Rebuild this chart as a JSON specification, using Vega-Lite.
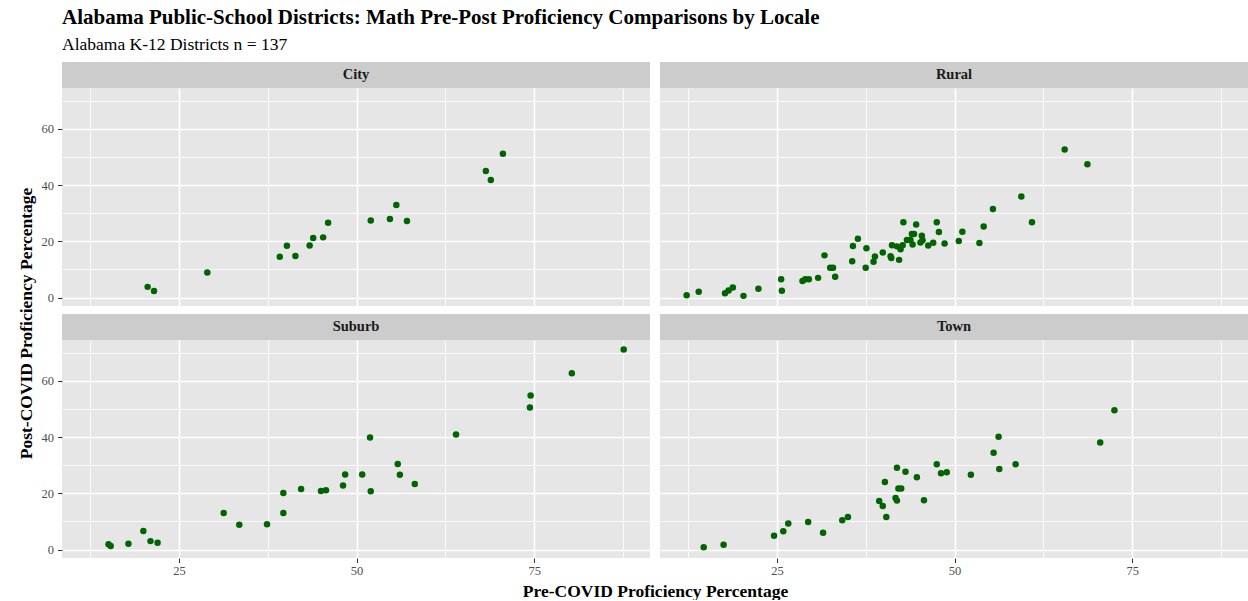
{
  "$schema": "https://vega.github.io/schema/vega-lite/v6.json",
  "padding": {"left": 17, "top": 6, "right": 0, "bottom": 0},
  "background": "#FFFFFF",
  "title": {
    "text": "Alabama Public-School Districts: Math Pre-Post Proficiency Comparisons by Locale",
    "subtitle": "Alabama K-12 Districts n = 137",
    "anchor": "start",
    "frame": "group",
    "font": "Liberation Serif",
    "fontSize": 21,
    "fontWeight": "bold",
    "color": "#000000",
    "subtitleFont": "Liberation Serif",
    "subtitleFontSize": 17.5,
    "subtitleColor": "#000000",
    "subtitlePadding": 8,
    "offset": 9
  },
  "datasets": {
    "districts": [
      {"locale": "City", "pre": 20.6, "post": 3.8},
      {"locale": "City", "pre": 21.5, "post": 2.3},
      {"locale": "City", "pre": 29.0, "post": 8.9},
      {"locale": "City", "pre": 39.2, "post": 14.5},
      {"locale": "City", "pre": 40.2, "post": 18.4},
      {"locale": "City", "pre": 41.4, "post": 14.8},
      {"locale": "City", "pre": 43.4, "post": 18.5},
      {"locale": "City", "pre": 43.9, "post": 21.2},
      {"locale": "City", "pre": 45.3, "post": 21.4},
      {"locale": "City", "pre": 46.0, "post": 26.6},
      {"locale": "City", "pre": 52.0, "post": 27.4},
      {"locale": "City", "pre": 54.7, "post": 27.9},
      {"locale": "City", "pre": 55.6, "post": 32.9},
      {"locale": "City", "pre": 57.1, "post": 27.2},
      {"locale": "City", "pre": 68.2, "post": 45.0},
      {"locale": "City", "pre": 68.9, "post": 41.8},
      {"locale": "City", "pre": 70.6, "post": 51.1},
      {"locale": "Rural", "pre": 12.3, "post": 0.8},
      {"locale": "Rural", "pre": 14.0, "post": 2.1},
      {"locale": "Rural", "pre": 17.7, "post": 1.5},
      {"locale": "Rural", "pre": 18.2, "post": 2.5},
      {"locale": "Rural", "pre": 18.8, "post": 3.6},
      {"locale": "Rural", "pre": 20.3, "post": 0.6},
      {"locale": "Rural", "pre": 22.4, "post": 3.1},
      {"locale": "Rural", "pre": 25.6, "post": 6.5},
      {"locale": "Rural", "pre": 25.7, "post": 2.4},
      {"locale": "Rural", "pre": 28.6, "post": 5.9},
      {"locale": "Rural", "pre": 29.0, "post": 6.5},
      {"locale": "Rural", "pre": 29.5, "post": 6.5},
      {"locale": "Rural", "pre": 30.8, "post": 7.0},
      {"locale": "Rural", "pre": 31.7, "post": 15.0},
      {"locale": "Rural", "pre": 32.5, "post": 10.6},
      {"locale": "Rural", "pre": 32.9, "post": 10.6},
      {"locale": "Rural", "pre": 33.2, "post": 7.4},
      {"locale": "Rural", "pre": 35.6, "post": 12.9},
      {"locale": "Rural", "pre": 35.7, "post": 18.3},
      {"locale": "Rural", "pre": 36.4, "post": 20.9},
      {"locale": "Rural", "pre": 37.5, "post": 10.6},
      {"locale": "Rural", "pre": 37.6, "post": 17.5},
      {"locale": "Rural", "pre": 38.6, "post": 12.7},
      {"locale": "Rural", "pre": 38.8, "post": 14.6},
      {"locale": "Rural", "pre": 39.9, "post": 16.0},
      {"locale": "Rural", "pre": 41.0, "post": 14.7},
      {"locale": "Rural", "pre": 41.1, "post": 14.1},
      {"locale": "Rural", "pre": 41.2, "post": 18.6},
      {"locale": "Rural", "pre": 42.2, "post": 13.4},
      {"locale": "Rural", "pre": 41.9, "post": 18.2},
      {"locale": "Rural", "pre": 42.4, "post": 17.2},
      {"locale": "Rural", "pre": 42.7, "post": 18.6},
      {"locale": "Rural", "pre": 42.8, "post": 26.8},
      {"locale": "Rural", "pre": 43.3, "post": 20.5},
      {"locale": "Rural", "pre": 43.8, "post": 20.5},
      {"locale": "Rural", "pre": 44.0, "post": 22.6},
      {"locale": "Rural", "pre": 44.1, "post": 18.9},
      {"locale": "Rural", "pre": 44.3, "post": 22.6},
      {"locale": "Rural", "pre": 44.6, "post": 26.0},
      {"locale": "Rural", "pre": 45.2, "post": 19.6},
      {"locale": "Rural", "pre": 45.4, "post": 22.0},
      {"locale": "Rural", "pre": 45.5, "post": 20.4},
      {"locale": "Rural", "pre": 46.3, "post": 18.5},
      {"locale": "Rural", "pre": 47.0, "post": 19.5},
      {"locale": "Rural", "pre": 47.5, "post": 26.8},
      {"locale": "Rural", "pre": 47.8, "post": 23.3},
      {"locale": "Rural", "pre": 48.6, "post": 19.2},
      {"locale": "Rural", "pre": 50.6, "post": 20.1},
      {"locale": "Rural", "pre": 51.1, "post": 23.4},
      {"locale": "Rural", "pre": 53.5, "post": 19.4},
      {"locale": "Rural", "pre": 54.1, "post": 25.3},
      {"locale": "Rural", "pre": 55.4, "post": 31.5},
      {"locale": "Rural", "pre": 59.4, "post": 35.9},
      {"locale": "Rural", "pre": 60.9, "post": 26.8},
      {"locale": "Rural", "pre": 65.5, "post": 52.6},
      {"locale": "Rural", "pre": 68.7, "post": 47.4},
      {"locale": "Suburb", "pre": 15.1, "post": 1.9},
      {"locale": "Suburb", "pre": 15.4, "post": 1.3},
      {"locale": "Suburb", "pre": 17.9, "post": 2.1},
      {"locale": "Suburb", "pre": 20.0, "post": 6.6},
      {"locale": "Suburb", "pre": 21.0, "post": 3.0},
      {"locale": "Suburb", "pre": 22.0, "post": 2.4},
      {"locale": "Suburb", "pre": 31.3, "post": 13.0},
      {"locale": "Suburb", "pre": 33.5, "post": 8.8},
      {"locale": "Suburb", "pre": 37.4, "post": 9.0},
      {"locale": "Suburb", "pre": 39.7, "post": 20.1},
      {"locale": "Suburb", "pre": 39.7, "post": 13.0},
      {"locale": "Suburb", "pre": 42.2, "post": 21.5},
      {"locale": "Suburb", "pre": 45.0, "post": 20.8},
      {"locale": "Suburb", "pre": 45.7, "post": 21.1},
      {"locale": "Suburb", "pre": 48.1, "post": 22.8},
      {"locale": "Suburb", "pre": 48.4, "post": 26.7},
      {"locale": "Suburb", "pre": 50.8, "post": 26.7},
      {"locale": "Suburb", "pre": 51.9, "post": 39.8},
      {"locale": "Suburb", "pre": 52.0, "post": 20.7},
      {"locale": "Suburb", "pre": 55.8, "post": 30.4},
      {"locale": "Suburb", "pre": 56.1, "post": 26.6},
      {"locale": "Suburb", "pre": 58.2, "post": 23.3},
      {"locale": "Suburb", "pre": 64.0, "post": 40.9},
      {"locale": "Suburb", "pre": 74.4, "post": 50.5},
      {"locale": "Suburb", "pre": 74.5, "post": 54.8},
      {"locale": "Suburb", "pre": 80.3, "post": 62.7},
      {"locale": "Suburb", "pre": 87.6, "post": 71.1},
      {"locale": "Town", "pre": 14.7, "post": 0.8},
      {"locale": "Town", "pre": 17.5, "post": 1.7},
      {"locale": "Town", "pre": 24.6, "post": 4.9},
      {"locale": "Town", "pre": 25.9, "post": 6.5},
      {"locale": "Town", "pre": 26.6, "post": 9.3},
      {"locale": "Town", "pre": 29.4, "post": 9.8},
      {"locale": "Town", "pre": 31.5, "post": 6.0},
      {"locale": "Town", "pre": 34.2, "post": 10.4},
      {"locale": "Town", "pre": 35.0, "post": 11.6},
      {"locale": "Town", "pre": 39.4, "post": 17.3},
      {"locale": "Town", "pre": 39.9, "post": 15.5},
      {"locale": "Town", "pre": 40.2, "post": 24.0},
      {"locale": "Town", "pre": 40.4, "post": 11.6},
      {"locale": "Town", "pre": 41.7, "post": 18.3},
      {"locale": "Town", "pre": 41.9, "post": 17.4},
      {"locale": "Town", "pre": 41.9, "post": 29.1},
      {"locale": "Town", "pre": 42.1, "post": 21.7},
      {"locale": "Town", "pre": 42.5, "post": 21.7},
      {"locale": "Town", "pre": 43.1, "post": 27.7},
      {"locale": "Town", "pre": 44.7, "post": 25.7},
      {"locale": "Town", "pre": 45.7, "post": 17.5},
      {"locale": "Town", "pre": 47.5, "post": 30.3},
      {"locale": "Town", "pre": 48.1, "post": 27.1},
      {"locale": "Town", "pre": 48.9, "post": 27.5},
      {"locale": "Town", "pre": 52.3, "post": 26.6},
      {"locale": "Town", "pre": 55.5, "post": 34.4},
      {"locale": "Town", "pre": 56.2, "post": 40.1},
      {"locale": "Town", "pre": 56.3, "post": 28.6},
      {"locale": "Town", "pre": 58.6, "post": 30.3},
      {"locale": "Town", "pre": 70.5, "post": 38.1},
      {"locale": "Town", "pre": 72.5, "post": 49.5}
    ]
  },
  "columns": 2,
  "spacing": {"row": 0, "column": 10},
  "bounds": "flush",
  "concat": [
    {
      "data": {"name": "districts"},
      "width": 588, "height": 26,
      "view": {"fill": "#CCCCCC", "stroke": null},
      "transform": [{"filter": "datum.locale === 'City'"}, {"aggregate": [{"op": "count", "as": "n"}], "groupby": ["locale"]}],
      "mark": {"type": "text", "font": "Liberation Serif", "fontWeight": "bold", "fontSize": 14.5, "color": "#1A1A1A", "baseline": "middle", "align": "center"},
      "encoding": {"text": {"field": "locale"}}
    },
    {
      "data": {"name": "districts"},
      "width": 588, "height": 26,
      "view": {"fill": "#CCCCCC", "stroke": null},
      "transform": [{"filter": "datum.locale === 'Rural'"}, {"aggregate": [{"op": "count", "as": "n"}], "groupby": ["locale"]}],
      "mark": {"type": "text", "font": "Liberation Serif", "fontWeight": "bold", "fontSize": 14.5, "color": "#1A1A1A", "baseline": "middle", "align": "center"},
      "encoding": {"text": {"field": "locale"}}
    },
    {
      "data": {"name": "districts"},
      "width": 588, "height": 218,
      "view": {"fill": "#E6E6E6", "stroke": null},
      "transform": [{"filter": "datum.locale === 'City'"}],
      "mark": {"type": "circle", "size": 42, "color": "#006400", "opacity": 1},
      "encoding": {
        "x": {"field": "pre", "type": "quantitative", "scale": {"domain": [8.55, 91.3], "nice": false, "zero": false},
          "axis": {"values": [12.5, 25, 37.5, 50, 62.5, 75, 87.5], "labels": false, "ticks": false, "domain": false, "title": null,
            "grid": true, "gridColor": "#FFFFFF", "gridWidth": {"condition": {"test": "datum.value % 25 === 0", "value": 1.6}, "value": 0.8}}},
        "y": {"field": "post", "type": "quantitative", "scale": {"domain": [-3, 74.5], "nice": false, "zero": false},
          "axis": {"values": [0, 10, 20, 30, 40, 50, 60, 70], "labelExpr": "datum.value % 20 === 0 ? datum.label : ''", "labelOverlap": false,
            "domain": false, "grid": true, "gridColor": "#FFFFFF", "gridWidth": {"condition": {"test": "datum.value % 20 === 0", "value": 1.6}, "value": 0.8},
            "ticks": true, "tickColor": "#333333", "tickSize": 4.5, "tickOpacity": {"condition": {"test": "datum.value % 20 === 0", "value": 1}, "value": 0},
            "labelFont": "Liberation Serif", "labelFontSize": 12.5, "labelColor": "#4D4D4D", "labelPadding": 4,
            "title": "Post-COVID Proficiency Percentage", "titleFont": "Liberation Serif", "titleFontWeight": "bold", "titleFontSize": 17.5, "titleColor": "#000000",
            "titleAngle": -90, "titleX": -36, "titleY": 235, "titleAlign": "center", "titleBaseline": "middle"}}
      }
    },
    {
      "data": {"name": "districts"},
      "width": 588, "height": 218,
      "view": {"fill": "#E6E6E6", "stroke": null},
      "transform": [{"filter": "datum.locale === 'Rural'"}],
      "mark": {"type": "circle", "size": 42, "color": "#006400", "opacity": 1},
      "encoding": {
        "x": {"field": "pre", "type": "quantitative", "scale": {"domain": [8.55, 91.3], "nice": false, "zero": false},
          "axis": {"values": [12.5, 25, 37.5, 50, 62.5, 75, 87.5], "labels": false, "ticks": false, "domain": false, "title": null,
            "grid": true, "gridColor": "#FFFFFF", "gridWidth": {"condition": {"test": "datum.value % 25 === 0", "value": 1.6}, "value": 0.8}}},
        "y": {"field": "post", "type": "quantitative", "scale": {"domain": [-3, 74.5], "nice": false, "zero": false},
          "axis": {"values": [0, 10, 20, 30, 40, 50, 60, 70], "labels": false, "ticks": false, "domain": false, "title": null,
            "grid": true, "gridColor": "#FFFFFF", "gridWidth": {"condition": {"test": "datum.value % 20 === 0", "value": 1.6}, "value": 0.8}}}
      }
    },
    {
      "data": {"name": "districts"},
      "width": 588, "height": 8,
      "transform": [{"filter": "false"}],
      "mark": {"type": "point", "opacity": 0},
      "encoding": {}
    },
    {
      "data": {"name": "districts"},
      "width": 588, "height": 8,
      "transform": [{"filter": "false"}],
      "mark": {"type": "point", "opacity": 0},
      "encoding": {}
    },
    {
      "data": {"name": "districts"},
      "width": 588, "height": 26,
      "view": {"fill": "#CCCCCC", "stroke": null},
      "transform": [{"filter": "datum.locale === 'Suburb'"}, {"aggregate": [{"op": "count", "as": "n"}], "groupby": ["locale"]}],
      "mark": {"type": "text", "font": "Liberation Serif", "fontWeight": "bold", "fontSize": 14.5, "color": "#1A1A1A", "baseline": "middle", "align": "center"},
      "encoding": {"text": {"field": "locale"}}
    },
    {
      "data": {"name": "districts"},
      "width": 588, "height": 26,
      "view": {"fill": "#CCCCCC", "stroke": null},
      "transform": [{"filter": "datum.locale === 'Town'"}, {"aggregate": [{"op": "count", "as": "n"}], "groupby": ["locale"]}],
      "mark": {"type": "text", "font": "Liberation Serif", "fontWeight": "bold", "fontSize": 14.5, "color": "#1A1A1A", "baseline": "middle", "align": "center"},
      "encoding": {"text": {"field": "locale"}}
    },
    {
      "data": {"name": "districts"},
      "width": 588, "height": 218,
      "view": {"fill": "#E6E6E6", "stroke": null},
      "transform": [{"filter": "datum.locale === 'Suburb'"}],
      "mark": {"type": "circle", "size": 42, "color": "#006400", "opacity": 1},
      "encoding": {
        "x": {"field": "pre", "type": "quantitative", "scale": {"domain": [8.55, 91.3], "nice": false, "zero": false},
          "axis": {"values": [12.5, 25, 37.5, 50, 62.5, 75, 87.5], "labelExpr": "datum.value % 25 === 0 ? datum.label : ''", "labelOverlap": false,
            "domain": false, "grid": true, "gridColor": "#FFFFFF", "gridWidth": {"condition": {"test": "datum.value % 25 === 0", "value": 1.6}, "value": 0.8},
            "ticks": true, "tickColor": "#333333", "tickSize": 4.5, "tickOpacity": {"condition": {"test": "datum.value % 25 === 0", "value": 1}, "value": 0},
            "labelFont": "Liberation Serif", "labelFontSize": 12.5, "labelColor": "#4D4D4D", "labelPadding": 2,
            "title": "Pre-COVID Proficiency Percentage", "titleFont": "Liberation Serif", "titleFontWeight": "bold", "titleFontSize": 17.5, "titleColor": "#000000",
            "titleX": 593, "titleY": 38, "titleAlign": "center", "titleBaseline": "alphabetic"}},
        "y": {"field": "post", "type": "quantitative", "scale": {"domain": [-3, 74.5], "nice": false, "zero": false},
          "axis": {"values": [0, 10, 20, 30, 40, 50, 60, 70], "labelExpr": "datum.value % 20 === 0 ? datum.label : ''", "labelOverlap": false,
            "domain": false, "grid": true, "gridColor": "#FFFFFF", "gridWidth": {"condition": {"test": "datum.value % 20 === 0", "value": 1.6}, "value": 0.8},
            "ticks": true, "tickColor": "#333333", "tickSize": 4.5, "tickOpacity": {"condition": {"test": "datum.value % 20 === 0", "value": 1}, "value": 0},
            "labelFont": "Liberation Serif", "labelFontSize": 12.5, "labelColor": "#4D4D4D", "labelPadding": 4, "title": null}}
      }
    },
    {
      "data": {"name": "districts"},
      "width": 588, "height": 218,
      "view": {"fill": "#E6E6E6", "stroke": null},
      "transform": [{"filter": "datum.locale === 'Town'"}],
      "mark": {"type": "circle", "size": 42, "color": "#006400", "opacity": 1},
      "encoding": {
        "x": {"field": "pre", "type": "quantitative", "scale": {"domain": [8.55, 91.3], "nice": false, "zero": false},
          "axis": {"values": [12.5, 25, 37.5, 50, 62.5, 75, 87.5], "labelExpr": "datum.value % 25 === 0 ? datum.label : ''", "labelOverlap": false,
            "domain": false, "grid": true, "gridColor": "#FFFFFF", "gridWidth": {"condition": {"test": "datum.value % 25 === 0", "value": 1.6}, "value": 0.8},
            "ticks": true, "tickColor": "#333333", "tickSize": 4.5, "tickOpacity": {"condition": {"test": "datum.value % 25 === 0", "value": 1}, "value": 0},
            "labelFont": "Liberation Serif", "labelFontSize": 12.5, "labelColor": "#4D4D4D", "labelPadding": 2, "title": null}},
        "y": {"field": "post", "type": "quantitative", "scale": {"domain": [-3, 74.5], "nice": false, "zero": false},
          "axis": {"values": [0, 10, 20, 30, 40, 50, 60, 70], "labels": false, "ticks": false, "domain": false, "title": null,
            "grid": true, "gridColor": "#FFFFFF", "gridWidth": {"condition": {"test": "datum.value % 20 === 0", "value": 1.6}, "value": 0.8}}}
      }
    }
  ]
}
